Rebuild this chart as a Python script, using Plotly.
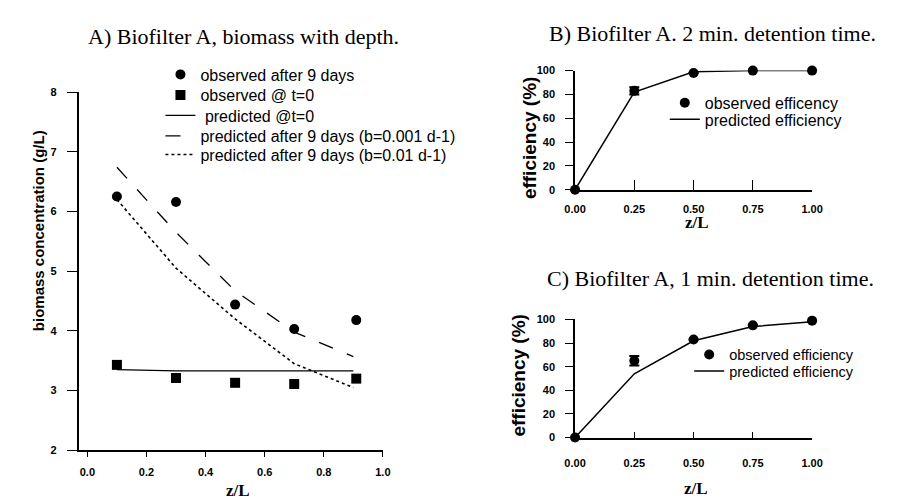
import plotly.graph_objects as go

# ---- Data: Panel A (biomass with depth) ----
zA = [0.1, 0.3, 0.5, 0.7, 0.91]
obs_9d = [6.25, 6.16, 4.44, 4.03, 4.18]
obs_t0 = [3.43, 3.21, 3.13, 3.11, 3.20]
zA_pred = [0.1, 0.3, 0.5, 0.7, 0.9]
pred_t0 = [3.35, 3.33, 3.33, 3.33, 3.33]
pred_b001 = [6.74, 5.65, 4.67, 3.98, 3.57]
pred_b01 = [6.20, 5.05, 4.20, 3.45, 3.05]

# ---- Data: Panel B (2 min detention) ----
zB = [0.0, 0.25, 0.5, 0.75, 1.0]
obs_B = [0, 83, 98, 100, 100]
err_B = [0, 3, 0, 0, 0]
pred_B = [0, 82, 99, 100, 100]

# ---- Data: Panel C (1 min detention) ----
zC = [0.0, 0.25, 0.5, 0.75, 1.0]
obs_C = [0, 65, 83, 95, 99]
err_C = [0, 4, 0, 0, 0]
pred_C = [0, 54, 82, 94, 98]

W, H = 899, 499
def px(x): return x / W
def py(y): return 1 - y / H

BLACK = "black"

fig = go.Figure()

# Panel A
fig.add_trace(go.Scatter(x=zA, y=obs_9d, mode="markers", name="observed after 9 days",
                         marker=dict(symbol="circle", size=10, color=BLACK),
                         xaxis="x", yaxis="y", legend="legend", cliponaxis=False))
fig.add_trace(go.Scatter(x=zA, y=obs_t0, mode="markers", name="observed @ t=0",
                         marker=dict(symbol="square", size=10, color=BLACK),
                         xaxis="x", yaxis="y", legend="legend2", cliponaxis=False))
fig.add_trace(go.Scatter(x=zA_pred, y=pred_t0, mode="lines", name=" predicted @t=0",
                         line=dict(color=BLACK, width=1.3, dash="solid"),
                         xaxis="x", yaxis="y", legend="legend3"))
fig.add_trace(go.Scatter(x=zA_pred, y=pred_b001, mode="lines", name="predicted after 9 days (b=0.001 d-1)",
                         line=dict(color=BLACK, width=1.3, dash="longdash"),
                         xaxis="x", yaxis="y", legend="legend4"))
fig.add_trace(go.Scatter(x=zA_pred, y=pred_b01, mode="lines", name="predicted after 9 days (b=0.01 d-1)",
                         line=dict(color=BLACK, width=1.6, dash="dot"),
                         xaxis="x", yaxis="y", legend="legend5"))

# Panel B
fig.add_trace(go.Scatter(x=zB, y=obs_B, mode="markers", name="observed efficency",
                         marker=dict(symbol="circle", size=10, color=BLACK),
                         error_y=dict(type="data", array=err_B, color=BLACK, thickness=2, width=5),
                         xaxis="x2", yaxis="y2", legend="legend6", cliponaxis=False))
fig.add_trace(go.Scatter(x=zB, y=pred_B, mode="lines", name="predicted efficiency",
                         line=dict(color=BLACK, width=1.5),
                         xaxis="x2", yaxis="y2", legend="legend7", cliponaxis=False))

# Panel C
fig.add_trace(go.Scatter(x=zC, y=obs_C, mode="markers", name="observed efficiency",
                         marker=dict(symbol="circle", size=10, color=BLACK),
                         error_y=dict(type="data", array=err_C, color=BLACK, thickness=2, width=5),
                         xaxis="x3", yaxis="y3", legend="legend8", cliponaxis=False))
fig.add_trace(go.Scatter(x=zC, y=pred_C, mode="lines", name="predicted efficiency",
                         line=dict(color=BLACK, width=1.5),
                         xaxis="x3", yaxis="y3", legend="legend9", cliponaxis=False))

tickfont = dict(family="Liberation Sans, Arial", size=11, color=BLACK, weight="bold")
axis_common = dict(showline=True, linecolor=BLACK, linewidth=1.5, showgrid=False,
                   zeroline=False, tickfont=tickfont, tickcolor=BLACK, tickwidth=1.3)

layout = dict(
    width=W, height=H,
    margin=dict(l=0, r=0, t=0, b=0),
    paper_bgcolor="white", plot_bgcolor="white",
    showlegend=True,
    xaxis=dict(domain=[px(61), px(373)], range=[-0.03, 1.0], anchor="y",
               tickvals=[0.0, 0.2, 0.4, 0.6, 0.8, 1.0], ticktext=["0.0", "0.2", "0.4", "0.6", "0.8", "1.0"],
               ticks="outside", ticklen=5, ticklabelstandoff=6, **axis_common),
    yaxis=dict(domain=[py(447), py(80)], range=[2, 8], anchor="x",
               tickvals=[2, 3, 4, 5, 6, 7, 8], ticks="outside", ticklen=10, ticklabelstandoff=8, **axis_common),
    xaxis2=dict(domain=[px(570), px(813)], range=[0, 1.0], anchor="y2",
                tickvals=[0, 0.25, 0.5, 0.75, 1.0], ticktext=["0.00", "0.25", "0.50", "0.75", "1.00"],
                ticks="inside", ticklen=10, ticklabelstandoff=8, **axis_common),
    yaxis2=dict(domain=[py(180), py(58)], range=[0, 100], anchor="x2",
                tickvals=[0, 20, 40, 60, 80, 100], ticks="outside", ticklen=8, ticklabelstandoff=8, **axis_common),
    xaxis3=dict(domain=[px(570), px(813)], range=[0, 1.0], anchor="y3",
                tickvals=[0, 0.25, 0.5, 0.75, 1.0], ticktext=["0.00", "0.25", "0.50", "0.75", "1.00"],
                ticks="inside", ticklen=6, ticklabelstandoff=14, **axis_common),
    yaxis3=dict(domain=[py(434), py(313)], range=[0, 100], anchor="x3",
                tickvals=[0, 20, 40, 60, 80, 100], ticks="outside", ticklen=8, ticklabelstandoff=8, **axis_common),
)

# one legend per entry so each row can sit where the reference shows it
leg_pos = {
    "legend": (145, 62, 16), "legend2": (145, 83, 16), "legend3": (145, 104, 16),
    "legend4": (145, 125, 16), "legend5": (145, 144, 16),
    "legend6": (662, 91, 16), "legend7": (662, 108, 16),
    "legend8": (687, 349, 14.5), "legend9": (687, 366, 14.5),
}
for k, (lx, ly, fs) in leg_pos.items():
    layout[k] = dict(x=px(lx), y=py(ly), xanchor="left", yanchor="middle",
                     font=dict(family="Liberation Sans, Arial", size=fs, color=BLACK),
                     bgcolor="rgba(0,0,0,0)", itemwidth=30, borderwidth=0)
fig.update_layout(**layout)

serif_title = dict(family="Liberation Serif, Times New Roman", size=22, color=BLACK)
axtitle = dict(family="Liberation Sans, Arial", size=15, color=BLACK, weight="bold")
efftitle = dict(family="Liberation Sans, Arial", size=19, color=BLACK, weight="bold")
zl_font = dict(family="Liberation Serif, Times New Roman", size=17, color=BLACK, weight="bold")

annotations = [
    dict(text="A) Biofilter A, biomass with depth.", x=px(230), y=py(23), font=serif_title),
    dict(text="B) Biofilter A. 2 min. detention time.", x=px(711), y=py(20), font=serif_title),
    dict(text="C) Biofilter A, 1 min. detention time.", x=px(709), y=py(271), font=serif_title),
    dict(text="biomass concentration (g/L)", x=px(20), y=py(222), textangle=-90, font=axtitle),
    dict(text="efficiency (%)", x=px(524), y=py(127), textangle=-90, font=efftitle),
    dict(text="efficiency (%)", x=px(512), y=py(370), textangle=-90, font=efftitle),
    dict(text="z/L", x=px(225), y=py(488), font=zl_font),
    dict(text="z/L", x=px(695), y=py(214), font=zl_font),
    dict(text="z/L", x=px(694), y=py(486), font=zl_font),
]
for a in annotations:
    a.update(xref="paper", yref="paper", showarrow=False, xanchor="center", yanchor="middle")
fig.update_layout(annotations=annotations)

fig.write_html("out.html")
